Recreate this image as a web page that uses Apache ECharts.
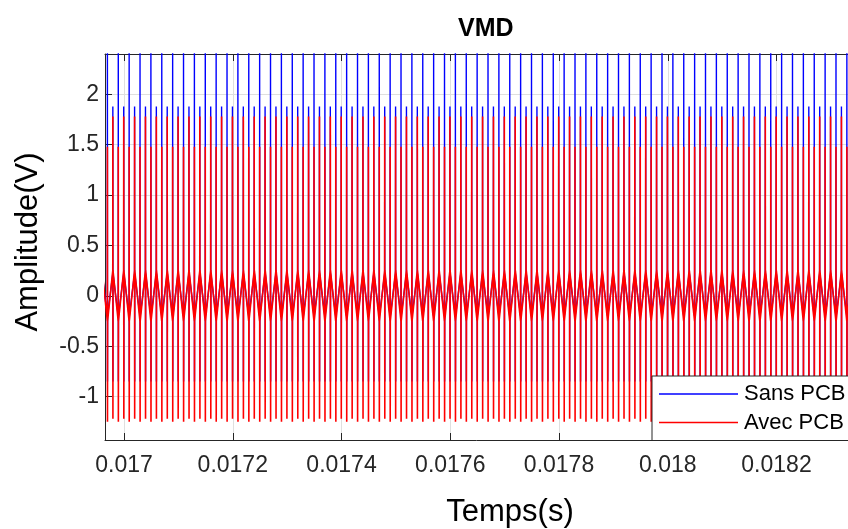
<!DOCTYPE html>
<html>
<head>
<meta charset="utf-8">
<script src="https://cdn.jsdelivr.net/npm/echarts@6/dist/echarts.min.js"></script>
<style>
html,body{margin:0;padding:0;background:#fff;}
#chart{width:848px;height:529px;}
</style>
</head>
<body>
<div id="chart"></div>
<script>
// ---- data ----
const titleText = 'VMD';
const xAxisTitle = 'Temps(s)';
const yAxisTitle = 'Amplitude(V)';
const seriesNames = ['Sans PCB', 'Avec PCB'];
const xRange = [0.016965, 0.0183315];
const yRange = [-1.43, 2.4];
// periodic switching signal: first spike time, period (s), number of periods shown
const firstSpikeTime = 0.0169693;
const period = 2.0e-5;
const periodIndexFrom = -1;
const periodIndexTo = 69;
// one measured period of each waveform (phase as fraction of period, value in V)
const sansPhases = [0.000, 0.006, 0.014, 0.022, 0.500, 0.506, 0.514, 0.522];
const sansValues = [-0.20, 2.45, -0.85, -0.20, 0.22, 1.88, -0.85, 0.22];
const avecPhases = [0.000, 0.006, 0.014, 0.022, 0.500, 0.506, 0.514, 0.522];
const avecValues = [-0.25, 1.48, -1.25, -0.25, 0.25, 1.78, -1.22, 0.25];

function buildSeries(phases, values) {
  const out = [];
  for (let k = periodIndexFrom; k <= periodIndexTo; k++) {
    const t0 = firstSpikeTime + k * period;
    for (let i = 0; i < phases.length; i++) {
      out.push([t0 + phases[i] * period, values[i]]);
    }
  }
  return out;
}

const FONT = '"Liberation Sans", Arial, Helvetica, sans-serif';
const TXT = '#262626';

const chart = echarts.init(document.getElementById('chart'), null, {renderer: 'canvas'});
chart.setOption({
  animation: false,
  backgroundColor: '#fff',
  title: {
    text: titleText,
    left: 453, top: 12,
    textStyle: {fontFamily: FONT, fontSize: 25, fontWeight: 'bold', color: '#000'}
  },
  grid: {left: 105, top: 54, right: 0, bottom: 89, containLabel: false},
  legend: {
    orient: 'vertical',
    left: 652, top: 376,
    padding: [7, 30, 7, 7],
    itemGap: 6.5,
    itemWidth: 79,
    itemHeight: 1.5,
    icon: 'rect',
    backgroundColor: '#fff',
    borderColor: TXT,
    borderWidth: 1,
    borderRadius: 0,
    textStyle: {fontFamily: FONT, fontSize: 22, color: '#000', padding: [0, 0, 0, 1]},
    data: seriesNames,
    z: 10
  },
  xAxis: [{
    type: 'value',
    min: xRange[0], max: xRange[1],
    splitNumber: 7,
    axisLine: {show: true, onZero: false, lineStyle: {color: TXT, width: 1}},
    axisTick: {show: true, inside: true, length: 7, lineStyle: {color: TXT}},
    axisLabel: {
      show: true, margin: 14, color: TXT, fontFamily: FONT, fontSize: 23,
      showMinLabel: false, showMaxLabel: false,
      formatter: v => String(parseFloat(v.toPrecision(6)))
    },
    splitLine: {show: true, lineStyle: {color: '#dfdfdf', width: 1}}
  }, {
    type: 'value',
    position: 'top',
    min: xRange[0], max: xRange[1],
    splitNumber: 7,
    axisLine: {show: true, onZero: false, lineStyle: {color: TXT, width: 1}},
    axisTick: {show: true, inside: true, length: 7, lineStyle: {color: TXT}},
    axisLabel: {show: false},
    splitLine: {show: false}
  }],
  yAxis: {
    type: 'value',
    min: yRange[0], max: yRange[1],
    splitNumber: 7,
    axisLine: {show: true, onZero: false, lineStyle: {color: TXT, width: 1}},
    axisTick: {show: true, inside: true, length: 7, lineStyle: {color: TXT}},
    axisLabel: {
      show: true, margin: 6, color: TXT, fontFamily: FONT, fontSize: 23,
      showMinLabel: false, showMaxLabel: false,
      formatter: v => String(parseFloat(v.toPrecision(6)))
    },
    splitLine: {show: true, lineStyle: {color: '#dfdfdf', width: 1}}
  },
  graphic: [
    {type: 'text', x: 510, y: 512, style: {text: xAxisTitle, font: '31px ' + FONT, fill: '#000', textAlign: 'center', textVerticalAlign: 'middle'}},
    {type: 'text', x: 28, y: 242, rotation: Math.PI / 2, style: {text: yAxisTitle, font: '31px ' + FONT, fill: '#000', textAlign: 'center', textVerticalAlign: 'middle'}}
  ],
  series: [{
    name: seriesNames[0],
    type: 'line',
    xAxisIndex: 0,
    data: buildSeries(sansPhases, sansValues),
    showSymbol: false, symbol: 'none',
    lineStyle: {color: '#0000ff', width: 1.4},
    itemStyle: {color: '#0000ff'},
    clip: true, silent: true
  }, {
    name: seriesNames[1],
    type: 'line',
    xAxisIndex: 0,
    data: buildSeries(avecPhases, avecValues),
    showSymbol: false, symbol: 'none',
    lineStyle: {color: '#ff0000', width: 1.6},
    itemStyle: {color: '#ff0000'},
    clip: true, silent: true
  }]
});
</script>
</body>
</html>
